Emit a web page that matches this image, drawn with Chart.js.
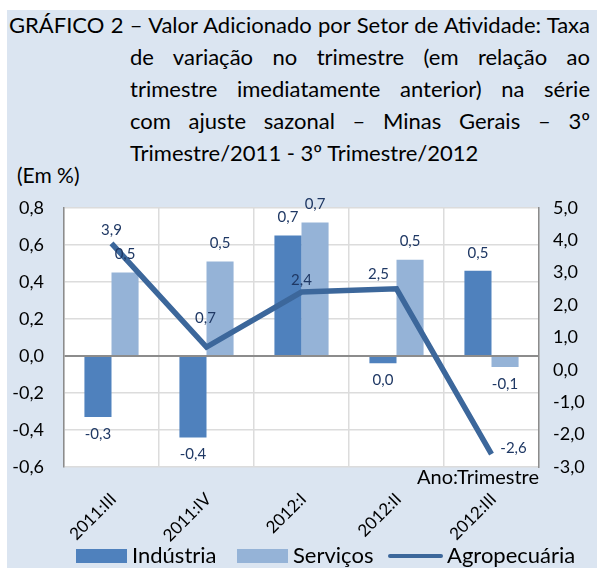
<!DOCTYPE html>
<html>
<head>
<meta charset="utf-8">
<script src="https://cdn.jsdelivr.net/npm/chart.js@4.4.0/dist/chart.umd.min.js"></script>
<style>
  body { margin: 0; width: 597px; height: 568px; position: relative; overflow: hidden; background: #fff; font-family: Lato, sans-serif; }
  #bg { position: absolute; left: 7px; top: 10px; right: 0; bottom: 0; background: #dbe5f1; }
  .t { position: absolute; white-space: nowrap; font-size: 22px; line-height: 32px; color: #000; text-align: justify; text-align-last: justify; }
  .leg { position: absolute; font-size: 22px; line-height: 24px; color: #000; white-space: nowrap; }
  .box { position: absolute; height: 14px; }
  #chart { position: absolute; left: 0; top: 177px; }
</style>
</head>
<body>
<div id="bg"></div>
<div class="t" style="left:9px;top:9px;width:581px">GRÁFICO 2 – Valor Adicionado por Setor de Atividade: Taxa</div>
<div class="t" style="left:130px;top:41px;width:460px">de variação no trimestre (em relação ao</div>
<div class="t" style="left:130px;top:73px;width:460px">trimestre imediatamente anterior) na série</div>
<div class="t" style="left:130px;top:105px;width:460px">com ajuste sazonal – Minas Gerais – 3º</div>
<div class="t" style="left:130px;top:137px;width:460px;text-align-last:left">Trimestre/2011 - 3º Trimestre/2012</div>
<div class="t" style="left:17px;top:159px;font-size:21px;text-align-last:left">(Em %)</div>

<canvas id="chart" width="597" height="391"></canvas>

<div class="box" style="left:76px;top:549px;width:51px;background:#4f81bd"></div>
<div class="leg" style="left:132px;top:543px">Indústria</div>
<div class="box" style="left:237px;top:549px;width:51px;background:#95b3d7"></div>
<div class="leg" style="left:293px;top:543px">Serviços</div>
<div class="box" style="left:388px;top:554px;width:55px;height:4px;border-radius:2px;background:#3c679b"></div>
<div class="leg" style="left:447px;top:543px">Agropecuária</div>

<script>
const categories = ['2011:III', '2011:IV', '2012:I', '2012:II', '2012:III'];
const industria = [-0.33, -0.44, 0.65, -0.04, 0.46];
const servicos = [0.45, 0.51, 0.72, 0.52, -0.06];
const agropecuaria = [3.9, 0.7, 2.4, 2.5, -2.6];

// label nudges for the line (px), like the hand-placed labels in the source
const lineLabelShift = [[0, -13], [-1, -29], [0, -12], [-18, -15], [22, -6]];

function fmt(v) {
    let s = v.toFixed(1);
    if (s === '-0.0') s = '0.0';
    return s.replace('.', ',');
}

const plotBg = {
    id: 'plotBg',
    beforeDraw(chart) {
        const { ctx, chartArea: a } = chart;
        ctx.save();
        ctx.fillStyle = '#ffffff';
        ctx.fillRect(a.left, a.top, a.right - a.left, a.bottom - a.top);
        ctx.restore();
    }
};

const valueLabels = {
    id: 'valueLabels',
    afterDatasetsDraw(chart) {
        const { ctx, chartArea: a } = chart;
        ctx.save();
        ctx.font = '15px Lato';
        ctx.fillStyle = '#1f3864';
        ctx.textAlign = 'center';
        ctx.textBaseline = 'middle';
        chart.data.datasets.forEach((ds, i) => {
            const meta = chart.getDatasetMeta(i);
            meta.data.forEach((el, j) => {
                const v = ds.data[j];
                if (ds.type === 'line') {
                    const [dx, dy] = lineLabelShift[j];
                    ctx.fillText(fmt(v), el.x + dx, el.y + dy);
                } else {
                    const y = v >= 0 ? el.y - 18 : el.y + 17;
                    ctx.fillText(fmt(v), el.x, y);
                }
            });
        });
        ctx.font = '20px Lato';
        ctx.fillStyle = '#000';
        ctx.textAlign = 'right';
        ctx.fillText('Ano:Trimestre', a.right, a.bottom + 11);
        ctx.restore();
    }
};

new Chart(document.getElementById('chart').getContext('2d'), {
    data: {
        labels: categories,
        datasets: [
            {
                type: 'line',
                label: 'Agropecuária',
                data: agropecuaria,
                yAxisID: 'y2',
                borderColor: '#3c679b',
                borderWidth: 5.5,
                pointRadius: 0,
                tension: 0,
                order: 0,
            },
            {
                type: 'bar',
                label: 'Indústria',
                data: industria,
                yAxisID: 'y',
                backgroundColor: '#4f81bd',
                barPercentage: 1,
                categoryPercentage: 0.57,
                order: 1,
            },
            {
                type: 'bar',
                label: 'Serviços',
                data: servicos,
                yAxisID: 'y',
                backgroundColor: '#95b3d7',
                barPercentage: 1,
                categoryPercentage: 0.57,
                order: 1,
            },
        ],
    },
    options: {
        responsive: false,
        animation: false,
        layout: { padding: { top: 4, left: 0, right: 0, bottom: 0 } },
        plugins: {
            legend: { display: false },
            tooltip: { enabled: false },
        },
        scales: {
            x: {
                offset: true,
                grid: { offset: true, color: '#dcdcdc', lineWidth: 1.5, drawTicks: false },
                border: { display: false },
                ticks: {
                    autoSkip: false,
                    minRotation: 45,
                    maxRotation: 45,
                    padding: 22,
                    labelOffset: 2,
                    color: '#000',
                    font: { family: 'Lato', size: 17 },
                },
                afterFit: (s) => { s.height = 101; },
            },
            y: {
                position: 'left',
                min: -0.6,
                max: 0.8,
                ticks: {
                    stepSize: 0.2,
                    padding: 20,
                    color: '#000',
                    font: { family: 'Lato', size: 18 },
                    callback: (v) => fmt(v),
                },
                grid: {
                    drawTicks: false,
                    color: (c) => Math.abs(c.tick.value) < 1e-9 ? '#8c8c8c' : '#dcdcdc',
                    lineWidth: (c) => Math.abs(c.tick.value) < 1e-9 ? 2 : 1.5,
                },
                border: { display: true, color: '#8c8c8c', width: 1.5 },
                afterFit: (s) => { s.width = 64; },
            },
            y2: {
                position: 'right',
                min: -3,
                max: 5,
                ticks: {
                    stepSize: 1,
                    padding: 14,
                    color: '#000',
                    font: { family: 'Lato', size: 18 },
                    callback: (v) => fmt(v),
                },
                grid: { drawOnChartArea: false, drawTicks: false },
                border: { display: true, color: '#8c8c8c', width: 1.5 },
                afterFit: (s) => { s.width = 58; },
            },
        },
    },
    plugins: [plotBg, valueLabels],
});
</script>
</body>
</html>
